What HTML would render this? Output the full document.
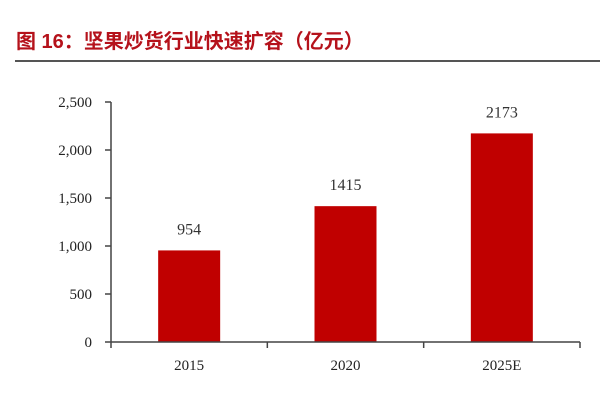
<!DOCTYPE html>
<html><head><meta charset="utf-8"><style>
body{margin:0;background:#fff;width:600px;height:400px;overflow:hidden}
svg{display:block}
</style></head><body>
<svg width="600" height="400">
<text x="16" y="48" font-family="'Liberation Sans','Noto Sans CJK SC',sans-serif" font-size="20" font-weight="bold" fill="#b5121b">图 16：坚果炒货行业快速扩容（亿元）</text>
<line x1="15" y1="61" x2="600" y2="61" stroke="#555" stroke-width="2"/>
<g id="plot"></g>
</svg>
<script>
const categories=["2015","2020","2025E"];
const values=[954,1415,2173];
const valueLabels=["954","1415","2173"];
const yTicks=[0,500,1000,1500,2000,2500];
const yTickLabels=["0","500","1,000","1,500","2,000","2,500"];
const X0=111,X1=580,Y0=342,Y1=102,YMAX=2500;
const y=v=>Y0-(v/YMAX)*(Y0-Y1);
const bw=(X1-X0)/categories.length;
const xc=i=>X0+bw*(i+0.5);
const g=document.getElementById('plot');
const NS='http://www.w3.org/2000/svg';
function mk(t,a){const e=document.createElementNS(NS,t);for(const k in a)e.setAttribute(k,a[k]);g.appendChild(e);return e;}
const font="'Liberation Serif',serif";
yTicks.forEach((v,i)=>{
 const l=mk('line',{x1:105,x2:X0,y1:y(v),y2:y(v),stroke:'#444','stroke-width':1.5});
 
 
 const t=mk('text',{x:92,y:y(v)+5,'text-anchor':'end','font-family':font,'font-size':15,fill:'#222'});
 t.textContent=yTickLabels[i];
 
 
});
categories.forEach((c,i)=>{
 const bwid=62;
 const r=mk('rect',{x:xc(i)-bwid/2,y:y(values[i]),width:bwid,height:Y0-y(values[i]),fill:'#c00000'});
 
 
 const vl=mk('text',{x:xc(i),y:y(values[i])-16,'text-anchor':'middle','font-family':font,'font-size':16,fill:'#333'});
 vl.textContent=valueLabels[i];
 
 
 const xl=mk('text',{x:xc(i),y:Y0+28,'text-anchor':'middle','font-family':font,'font-size':15,fill:'#222'});
 xl.textContent=c;
 
 
 const xt=mk('line',{x1:X0+bw*(i+1),x2:X0+bw*(i+1),y1:Y0,y2:Y0+6,stroke:'#444','stroke-width':1.5});
 
 
});
const ya=mk('line',{x1:X0,x2:X0,y1:Y1,y2:Y0+6,stroke:'#444','stroke-width':1.5});


const xa=mk('line',{x1:X0,x2:X1,y1:Y0,y2:Y0,stroke:'#444','stroke-width':1.5});


</script>
</body></html>
